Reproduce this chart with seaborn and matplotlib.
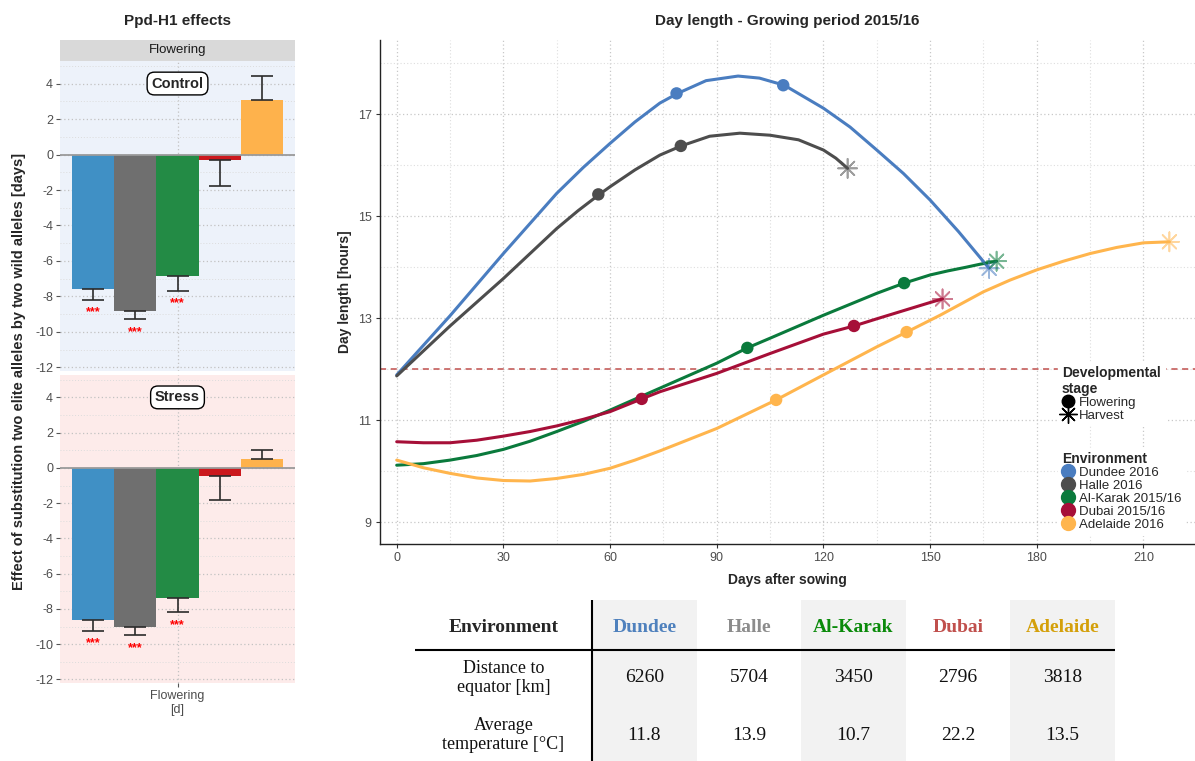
import numpy as np
import pandas as pd
import matplotlib
matplotlib.use("Agg")
import matplotlib.pyplot as plt
import seaborn as sns
from matplotlib.lines import Line2D

# ---------------- data ----------------
environments = ["Dundee 2016", "Halle 2016", "Al-Karak 2015/16", "Dubai 2015/16", "Adelaide 2016"]
bar_colors = ["#4090C5", "#6F6F6F", "#238B45", "#CB181D", "#FEB24C"]
line_colors = ["#4A7DC0", "#4D4D4D", "#0A7A3C", "#A60F38", "#FFB54D"]

trait_label = "Flowering\n[d]"
control_effect = [-7.59, -8.81, -6.84, -0.30, 3.09]
control_err = [0.60, 0.47, 0.84, 1.45, 1.33]
control_sig = ["***", "***", "***", "", ""]
stress_effect = [-8.61, -9.02, -7.37, -0.47, 0.49]
stress_err = [0.62, 0.48, 0.81, 1.36, 0.55]
stress_sig = ["***", "***", "***", "", ""]

dundee_days = [0, 15, 30, 45, 52.5, 60, 67, 74, 79, 87, 96, 102, 109, 120, 127.5, 135,
               142.5, 150, 158, 166.6]
dundee_hours = [11.89, 13.05, 14.27, 15.45, 15.96, 16.43, 16.85, 17.22, 17.41, 17.66, 17.75,
                17.71, 17.57, 17.12, 16.75, 16.30, 15.84, 15.32, 14.70, 13.98]
halle_days = [0, 15, 30, 45, 51, 57, 60, 67, 74, 80, 88, 96.5, 105, 113, 120, 123.5, 126.8]
halle_hours = [11.87, 12.85, 13.78, 14.76, 15.11, 15.43, 15.58, 15.91, 16.20, 16.38, 16.57,
               16.63, 16.59, 16.50, 16.30, 16.14, 15.94]
karak_days = [0, 7.5, 15, 22.5, 30, 37.5, 45, 52.5, 60, 74, 90, 98.6, 105, 120, 135, 142.7,
              150, 155, 160, 164, 168.7]
karak_hours = [10.12, 10.15, 10.22, 10.31, 10.43, 10.59, 10.78, 10.98, 11.20, 11.63, 12.12,
               12.42, 12.61, 13.06, 13.49, 13.69, 13.85, 13.93, 14.00, 14.06, 14.12]
dubai_days = [0, 7.5, 15, 22.5, 30, 37.5, 45, 52.5, 60, 68.9, 74, 90, 105, 120, 128.6, 135,
              150, 153.5]
dubai_hours = [10.58, 10.56, 10.56, 10.61, 10.69, 10.78, 10.89, 11.02, 11.17, 11.42, 11.56,
               11.92, 12.31, 12.69, 12.85, 12.99, 13.31, 13.38]
adelaide_days = [0, 7.5, 15, 22.5, 30, 37.5, 45, 52.5, 60, 67, 74, 90, 106.7, 120, 135, 143.4,
                 152.8, 165, 172.5, 180, 187.5, 195, 202.5, 210, 217.3]
adelaide_hours = [10.22, 10.07, 9.96, 9.87, 9.82, 9.81, 9.86, 9.94, 10.06, 10.22, 10.40, 10.84,
                  11.40, 11.89, 12.44, 12.73, 13.06, 13.52, 13.75, 13.95, 14.12, 14.27, 14.39,
                  14.48, 14.50]

flowering_env = ["Dundee 2016", "Dundee 2016", "Halle 2016", "Halle 2016", "Al-Karak 2015/16",
                 "Al-Karak 2015/16", "Dubai 2015/16", "Dubai 2015/16", "Adelaide 2016", "Adelaide 2016"]
flowering_day = [78.7, 108.7, 56.7, 79.9, 98.6, 142.7, 68.9, 128.6, 106.7, 143.4]
flowering_hours = [17.41, 17.57, 15.43, 16.38, 12.42, 13.69, 11.42, 12.85, 11.40, 12.73]

harvest_env = environments
harvest_day = [166.6, 126.8, 168.7, 153.5, 217.3]
harvest_hours = [13.98, 15.94, 14.12, 13.38, 14.50]

short_day_threshold = 12

table_names = ["Dundee", "Halle", "Al-Karak", "Dubai", "Adelaide"]
table_name_colors = ["#4F81BD", "#8C8C8C", "#0A8A0A", "#C0504D", "#D4A00A"]
distance_km = [6260, 5704, 3450, 2796, 3818]
avg_temp = [11.8, 13.9, 10.7, 22.2, 13.5]

# ---------------- style ----------------
sns.set_theme(style="white")
plt.rcParams["font.family"] = ["Liberation Sans", "DejaVu Sans"]
plt.rcParams["axes.unicode_minus"] = False

W, H = 1195, 761
fig = plt.figure(figsize=(W / 100, H / 100), dpi=100)


def fx(px):
    return px / W


def fy(py):
    return 1 - py / H


# ---------------- left: bar panels ----------------
def bar_panel(ax, effects, errs, sig, bg, label, show_x):
    df = pd.DataFrame({"trait": [trait_label] * len(environments),
                       "env": environments, "effect": effects})
    ax.set_facecolor(bg)
    ax.set_axisbelow(True)
    sns.barplot(data=df, x="trait", y="effect", hue="env", hue_order=environments,
                palette=bar_colors, saturation=1, width=0.8, errorbar=None,
                legend=False, ax=ax, zorder=2, linewidth=0)
    bars = sorted(ax.patches, key=lambda p: p.get_x())
    for p, v, e, s in zip(bars, effects, errs, sig):
        xc = p.get_x() + p.get_width() / 2
        lo, hi = (e, 0) if v < 0 else (0, e)
        ax.errorbar(xc, v, yerr=[[lo], [hi]], fmt="none", ecolor="#2b2b2b",
                    elinewidth=1.2, capsize=8, capthick=1.2, zorder=4)
        if s:
            end = v - e if v < 0 else v + e
            ax.text(xc, end - 0.72, s, color="red", ha="center", va="center",
                    fontsize=9, fontweight="bold", zorder=5)
    ax.axhline(0, color="#9a9a9a", lw=1.3, zorder=3)
    ax.set_xlim(-0.446, 0.446)
    ax.set_ylim(-12.2, 5.27)
    ax.set_yticks(np.arange(-12, 5, 2))
    ax.set_yticks(np.arange(-11, 6, 2), minor=True)
    ax.set_xticks([0])
    ax.grid(True, which="major", axis="both", linestyle=(0, (1, 2)), color="#c2c2c2", lw=0.9)
    ax.grid(True, which="minor", axis="y", linestyle=(0, (1, 2)), color="#dcdcdc", lw=0.7)
    ax.tick_params(axis="y", which="major", length=3, width=0.8, color="#555555",
                   labelsize=9, labelcolor="#4d4d4d", pad=2, left=True)
    ax.tick_params(axis="y", which="minor", length=0)
    if show_x:
        ax.set_xticklabels([trait_label])
        ax.tick_params(axis="x", length=3, width=0.8, color="#555555", labelsize=9,
                       labelcolor="#4d4d4d", pad=2, bottom=True)
    else:
        ax.set_xticklabels([])
        ax.tick_params(axis="x", length=0)
    ax.set_xlabel("")
    ax.set_ylabel("")
    for sp in ax.spines.values():
        sp.set_visible(False)
    ax.text(0, 4, label, ha="center", va="center", fontsize=10.5, fontweight="bold",
            zorder=6, bbox=dict(boxstyle="round,pad=0.3,rounding_size=0.5", fc="white",
                                ec="black", lw=1))


ax_top = fig.add_axes([fx(60), fy(371), fx(235), 310 / H])
bar_panel(ax_top, control_effect, control_err, control_sig, "#EDF2FA", "Control", False)
ax_bot = fig.add_axes([fx(60), fy(683), fx(235), 308 / H])
bar_panel(ax_bot, stress_effect, stress_err, stress_sig, "#FDEBEA", "Stress", True)

strip = fig.add_axes([fx(60), fy(61), fx(235), 21 / H])
strip.set_facecolor("#D9D9D9")
strip.set_xticks([])
strip.set_yticks([])
for sp in strip.spines.values():
    sp.set_visible(False)
strip.text(0.5, 0.5, "Flowering", ha="center", va="center", fontsize=9.5,
           color="#1a1a1a", transform=strip.transAxes)

fig.text(fx(178), fy(21), "Ppd-H1 effects", ha="center", va="center",
         fontsize=11, fontweight="bold")
fig.text(fx(19), fy(371), "Effect of substitution two elite alleles by two wild alleles [days]",
         rotation=90, ha="center", va="center", fontsize=10.5, fontweight="bold")

# ---------------- right: day length ----------------
ax = fig.add_axes([fx(380), fy(544), fx(815), 504 / H])
series = [(dundee_days, dundee_hours), (halle_days, halle_hours), (karak_days, karak_hours),
          (dubai_days, dubai_hours), (adelaide_days, adelaide_hours)]
line_df = pd.concat([pd.DataFrame({"day": d, "hours": h, "env": e})
                     for (d, h), e in zip(series, environments)], ignore_index=True)
flower_df = pd.DataFrame({"day": flowering_day, "hours": flowering_hours, "env": flowering_env})
harvest_df = pd.DataFrame({"day": harvest_day, "hours": harvest_hours, "env": harvest_env})

ax.set_axisbelow(True)
ax.axhline(short_day_threshold, color="#C0504D", ls=(0, (4, 3)), lw=1.1, zorder=1.5)
sns.lineplot(data=line_df, x="day", y="hours", hue="env", hue_order=environments,
             palette=line_colors, estimator=None, sort=False, lw=2.2, legend=False,
             ax=ax, zorder=2)
for ln in ax.get_lines():
    ln.set_solid_joinstyle("round")
sns.scatterplot(data=flower_df, x="day", y="hours", hue="env", hue_order=environments,
                palette=line_colors, s=80, linewidth=0, legend=False, ax=ax, zorder=3)
sns.scatterplot(data=harvest_df, x="day", y="hours", hue="env", hue_order=environments,
                palette=line_colors, marker=(8, 2, 0), s=190, linewidth=1.2, alpha=0.55,
                legend=False, ax=ax, zorder=3)

ax.set_xlim(-4.7, 224.5)
ax.set_ylim(8.575, 18.457)
ax.set_xticks(np.arange(0, 211, 30))
ax.set_xticks(np.arange(15, 225, 30), minor=True)
ax.set_yticks(np.arange(9, 18, 2))
ax.set_yticks(np.arange(10, 19, 2), minor=True)
ax.grid(True, which="major", linestyle=(0, (1, 2)), color="#c8c8c8", lw=0.9)
ax.grid(True, which="minor", linestyle=(0, (1, 2)), color="#dedede", lw=0.8)
ax.tick_params(axis="both", which="major", length=3, width=0.8, color="#333333",
               labelsize=9, labelcolor="#4d4d4d", pad=3, bottom=True, left=True)
ax.tick_params(axis="both", which="minor", length=0)
for side in ["top", "right"]:
    ax.spines[side].set_visible(False)
for side in ["left", "bottom"]:
    ax.spines[side].set_color("#222222")
    ax.spines[side].set_linewidth(1.0)
ax.set_xlabel("Days after sowing", fontsize=10, fontweight="bold")
ax.set_ylabel("Day length [hours]", fontsize=10, fontweight="bold")
ax.xaxis.set_label_coords(0.5, -0.057)
ax.yaxis.set_label_coords(-0.034, 0.5)
fig.text(fx(787), fy(21), "Day length - Growing period 2015/16", ha="center", va="center",
         fontsize=11, fontweight="bold")

stage_handles = [
    Line2D([], [], marker="o", color="black", ls="", markersize=9, label="Flowering"),
    Line2D([], [], marker=(8, 2, 0), color="black", ls="", markersize=13,
           markeredgewidth=1.0, label="Harvest"),
]
leg_kw = dict(loc="upper left", frameon=True, fancybox=False, framealpha=1,
              edgecolor="white", facecolor="white", fontsize=9.5,
              title_fontproperties={"weight": "bold", "size": 10}, alignment="left",
              handlelength=0.9, handletextpad=0.35, labelspacing=0.05,
              borderpad=0.3, borderaxespad=0)
leg1 = ax.legend(handles=stage_handles, title="Developmental\nstage",
                 bbox_to_anchor=(0.832, 0.362), **leg_kw)
ax.add_artist(leg1)
env_handles = [Line2D([], [], marker="o", color=c, ls="", markersize=10, label=e)
               for e, c in zip(environments, line_colors)]
leg2 = ax.legend(handles=env_handles, title="Environment",
                 bbox_to_anchor=(0.832, 0.19), **leg_kw)

# ---------------- table ----------------
tx0, ty0, tw, th = 415, 600, 700, 161
tab = fig.add_axes([fx(tx0), fy(ty0 + th), fx(tw), th / H])
tab.set_xlim(0, tw)
tab.set_ylim(th, 0)
tab.axis("off")
first_w = 177
col_w = (tw - first_w) / len(table_names)
serif = ["Liberation Serif", "DejaVu Serif"]
for i, (name, col) in enumerate(zip(table_names, table_name_colors)):
    x0 = first_w + i * col_w
    if i % 2 == 0:
        tab.axvspan(x0, x0 + col_w, color="#F2F2F2", zorder=0, lw=0)
    xc = x0 + col_w / 2
    tab.text(xc, 27, name, color=col, ha="center", va="center", fontsize=14,
             fontweight="bold", family=serif)
    tab.text(xc, 78, f"{distance_km[i]}", ha="center", va="center", fontsize=14,
             family=serif, color="#111111")
    tab.text(xc, 135, f"{avg_temp[i]:.1f}", ha="center", va="center", fontsize=14,
             family=serif, color="#111111")
tab.text(first_w / 2, 27, "Environment", ha="center", va="center", fontsize=14,
         fontweight="bold", family=serif)
tab.text(first_w / 2, 78, "Distance to\nequator [km]", ha="center", va="center",
         fontsize=13, family=serif, linespacing=1.1, color="#111111")
tab.text(first_w / 2, 135, "Average\ntemperature [°C]", ha="center", va="center",
         fontsize=13, family=serif, linespacing=1.1, color="#111111")
tab.plot([first_w, first_w], [0, th], color="black", lw=1.5, zorder=2)
tab.plot([0, tw], [50, 50], color="black", lw=1.5, zorder=2)

fig.savefig("out.png", dpi=100)
